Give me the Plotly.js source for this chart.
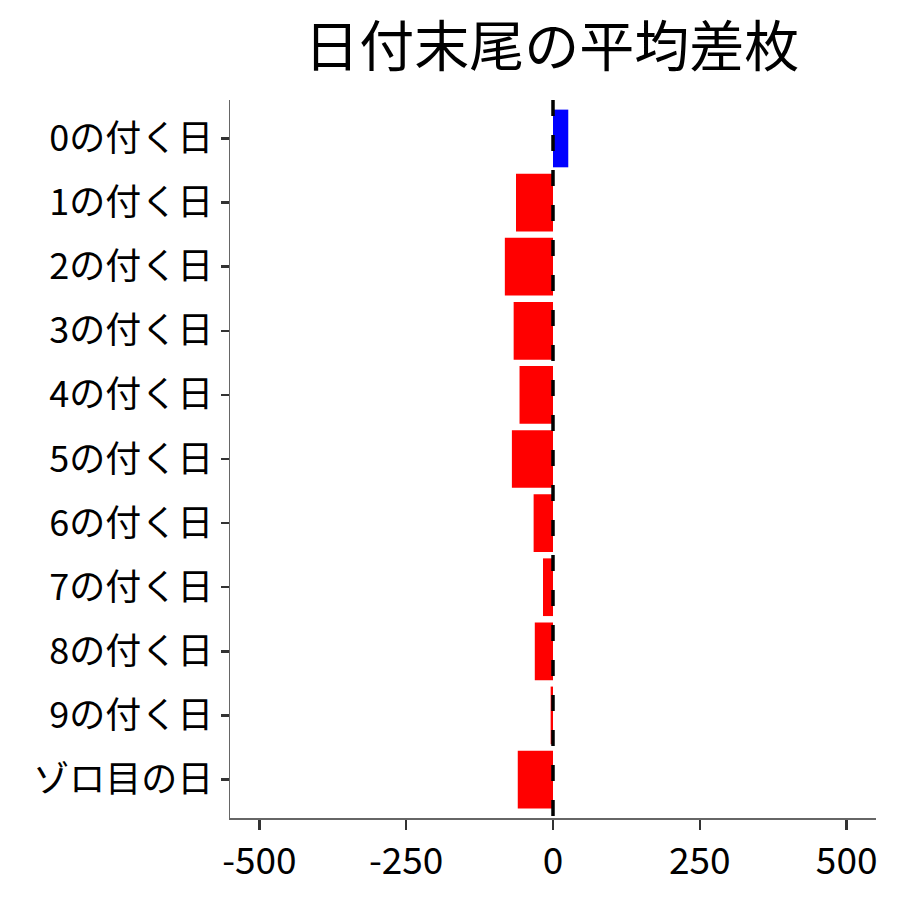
<!DOCTYPE html>
<html><head><meta charset="utf-8">
<script src="https://cdn.plot.ly/plotly-3.0.1.min.js"></script>
<style>html,body{margin:0;padding:0;background:#fff}</style>
</head><body>
<div id="chart" style="width:900px;height:900px"></div>
<script>
const categories = ["0の付く日","1の付く日","2の付く日","3の付く日","4の付く日","5の付く日","6の付く日","7の付く日","8の付く日","9の付く日","ゾロ目の日"];
const values = [26, -63, -82, -67, -57, -70, -33, -17, -31, -4, -60];
const xTickVals = [-500, -250, 0, 250, 500];
const xTickText = ["-500", "-250", "0", "250", "500"];

const colors = values.map(v => v >= 0 ? "#0000FF" : "#FF0000");
const font = "Noto Sans CJK JP, Noto Sans, sans-serif";

const trace = {
  type: "bar", orientation: "h",
  x: values, y: categories,
  marker: {color: colors, line: {width: 0}},
  width: 0.9, hoverinfo: "x+y"
};
const layout = {
  width: 900, height: 900,
  margin: {l: 230, r: 24, t: 100, b: 82},
  paper_bgcolor: "#fff", plot_bgcolor: "#fff",
  showlegend: false,
  title: {text: "日付末尾の平均差枚", font: {family: font, size: 55, color: "#000"}, x: 0.613, xanchor: "center", y: 0.948, yanchor: "middle"},
  xaxis: {
    range: [-550, 550], tickvals: xTickVals, ticktext: xTickText,
    showgrid: false, zeroline: false, showline: true, linecolor: "#666", linewidth: 1.5,
    ticks: "outside", ticklen: 10, tickwidth: 2.5, tickcolor: "#333",
    tickfont: {family: font, size: 37, color: "#000"}, fixedrange: true
  },
  yaxis: {
    type: "category", categoryorder: "array", categoryarray: categories,
    range: [categories.length - 0.4, -0.6],
    showgrid: false, zeroline: false, showline: true, linecolor: "#666", linewidth: 1.5,
    ticks: "outside", ticklen: 8, tickwidth: 2.5, tickcolor: "#333",
    tickfont: {family: font, size: 36, color: "#000"}, fixedrange: true
  },
  shapes: [{type: "line", xref: "x", yref: "paper", x0: 0, x1: 0, y0: 1, y1: 0,
    line: {color: "#000", width: 3.5, dash: "16px,19px"}}]
};
Plotly.newPlot("chart", [trace], layout, {displayModeBar: false, staticPlot: true});
</script>
</body></html>
